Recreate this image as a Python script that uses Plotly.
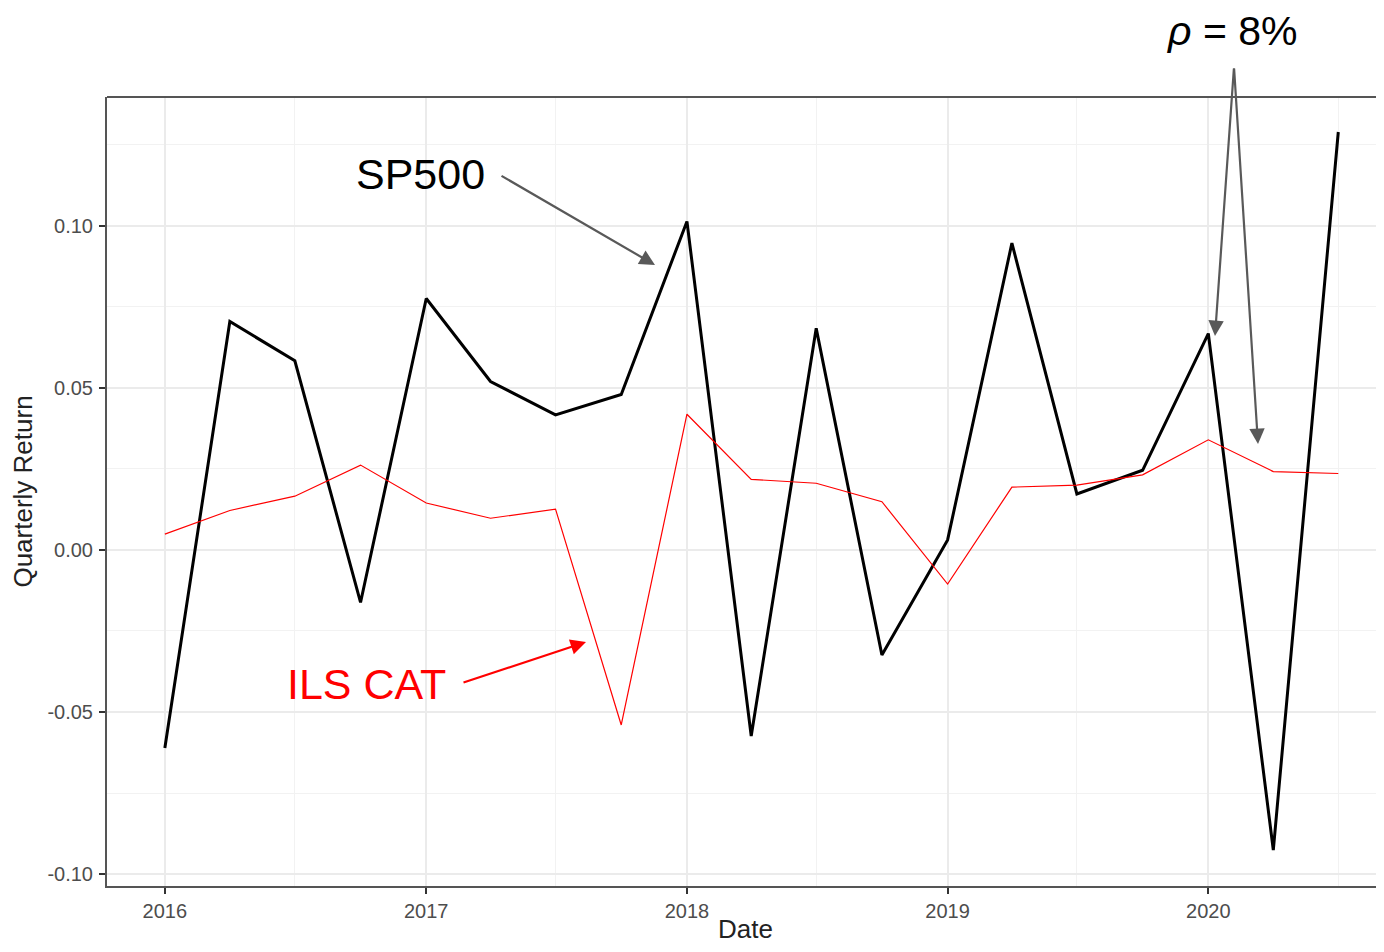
import plotly.graph_objects as go

# quarterly dates
dates = [
    "2016-01-01", "2016-04-01", "2016-07-01", "2016-10-01",
    "2017-01-01", "2017-04-01", "2017-07-01", "2017-10-01",
    "2018-01-01", "2018-04-01", "2018-07-01", "2018-10-01",
    "2019-01-01", "2019-04-01", "2019-07-01", "2019-10-01",
    "2020-01-01", "2020-04-01", "2020-07-01",
]
sp500 = [
    -0.0611, 0.0705, 0.0584, -0.0162,
    0.0776, 0.0520, 0.0417, 0.0480,
    0.1014, -0.0574, 0.0684, -0.0324,
    0.0031, 0.0947, 0.0173, 0.0246,
    0.0668, -0.0926, 0.1290,
]
ils_cat = [
    0.0049, 0.0122, 0.0166, 0.0262,
    0.0145, 0.0098, 0.0126, -0.0540,
    0.0419, 0.0218, 0.0206, 0.0149,
    -0.0105, 0.0194, 0.0200, 0.0232,
    0.0340, 0.0242, 0.0236,
]
y_ticks = [-0.10, -0.05, 0.00, 0.05, 0.10]
y_tick_labels = ["-0.10", "-0.05", "0.00", "0.05", "0.10"]

fig = go.Figure()
fig.add_trace(go.Scatter(x=dates, y=sp500, mode="lines", name="SP500",
                         line=dict(color="black", width=3)))
fig.add_trace(go.Scatter(x=dates, y=ils_cat, mode="lines", name="ILS CAT",
                         line=dict(color="#FF0000", width=1.2)))

GRID = "#EBEBEB"
TICKFONT = dict(family="Arial, Liberation Sans, sans-serif", size=20, color="#4D4D4D")
TITLEFONT = dict(family="Arial, Liberation Sans, sans-serif", size=26, color="#222222")

# page body has an 8px margin, so the figure is shrunk to fit the window
fig.update_layout(
    width=1376, height=936,
    margin=dict(l=99, r=0, t=89, b=58),
    paper_bgcolor="white", plot_bgcolor="white",
    showlegend=False,
    font=dict(family="Arial, Liberation Sans, sans-serif"),
    xaxis=dict(
        type="date",
        range=["2015-10-12", "2020-09-03"],
        tickvals=["2016-01-01", "2017-01-01", "2018-01-01", "2019-01-01", "2020-01-01"],
        ticktext=["2016", "2017", "2018", "2019", "2020"],
        tickfont=TICKFONT,
        ticks="outside", ticklen=6, tickcolor="#333333", tickwidth=1.5,
        ticklabelstandoff=0,
        showgrid=True, gridcolor=GRID, gridwidth=1.5,
        minor=dict(tickvals=["2016-07-01", "2017-07-01", "2018-07-01",
                             "2019-07-01", "2020-07-01"],
                   showgrid=True, gridcolor="#F2F2F2", gridwidth=1),
        showline=True, linecolor="#555555", linewidth=2,
        zeroline=False, automargin=False,
        title=dict(text="Date", font=TITLEFONT, standoff=10),
    ),
    yaxis=dict(
        range=[-0.1037, 0.1398],
        tickvals=y_ticks, ticktext=y_tick_labels,
        tickfont=TICKFONT,
        ticks="outside", ticklen=6, tickcolor="#333333", tickwidth=1.5,
        ticklabelstandoff=2,
        showgrid=True, gridcolor=GRID, gridwidth=1.5,
        minor=dict(tickvals=[-0.075, -0.025, 0.025, 0.075, 0.125],
                   showgrid=True, gridcolor="#F2F2F2", gridwidth=1),
        showline=True, linecolor="#555555", linewidth=2,
        zeroline=False, automargin=False,
        title=dict(text="Quarterly Return", font=TITLEFONT, standoff=10),
    ),
)

# top border of the panel (right edge is cut off in the original)
fig.add_shape(type="line", xref="paper", yref="paper", x0=0, x1=1, y0=1, y1=1,
              line=dict(color="#555555", width=2))

# plot area in page pixels: x 107..1384, y 97..886
def px(x):
    return (x - 107) / 1277


def py(y):
    return (886 - y) / 789


ARROW_GRAY = "#595959"
BIG = dict(family="Arial, Liberation Sans, sans-serif", size=43)

labels = [
    (420, 174, "SP500", "black", 43),
    (366, 684, "ILS CAT", "#FF0000", 43),
    (1232, 31, "<i>ρ</i> = 8%", "black", 41),
]
for x, y, text, col, size in labels:
    fig.add_annotation(xref="paper", yref="paper", x=px(x), y=py(y), text=text,
                       xanchor="center", yanchor="middle", showarrow=False,
                       font=dict(BIG, color=col, size=size))

arrows = [
    (655, 265, 500, 175, ARROW_GRAY),
    (586, 642, 462, 683, "#FF0000"),
    (1215, 336, 1234, 67, ARROW_GRAY),
    (1258, 444, 1234, 67, ARROW_GRAY),
]
for hx, hy, tx, ty, col in arrows:
    fig.add_annotation(xref="paper", yref="paper", x=px(hx), y=py(hy), text="",
                       showarrow=True, ax=tx - hx, ay=ty - hy,
                       arrowhead=2, arrowsize=1.4, arrowwidth=2.2, arrowcolor=col,
                       standoff=0, startstandoff=0)

fig.write_html("out.html")
